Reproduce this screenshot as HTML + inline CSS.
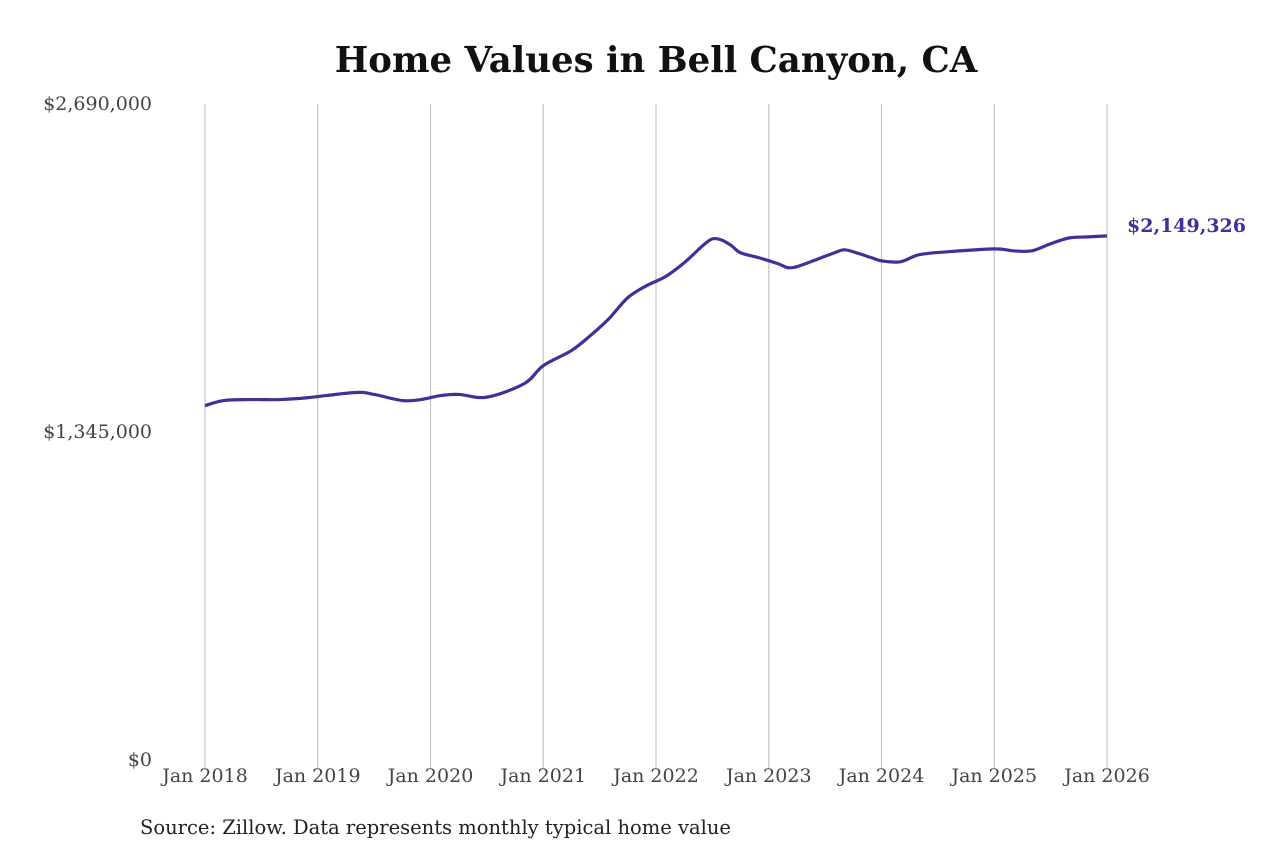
<!DOCTYPE html>
<html><head><meta charset="utf-8"><style>
body{margin:0;background:#fff;width:1280px;height:853px;overflow:hidden}
text{font-family:"DejaVu Serif","Liberation Serif",serif}
</style></head><body>
<svg id="chart" width="1280" height="853">
<text x="656" y="72" text-anchor="middle" font-size="35.5" font-weight="bold" fill="#111">Home Values in Bell Canyon, CA</text>
<g id="grid"></g>
<g id="yaxis"></g>
<g id="xaxis"></g>
<path id="line" fill="none" stroke="#3b3399" stroke-width="3.2" stroke-linejoin="round"/>
<text id="endlabel" font-size="19" font-weight="bold" fill="#3b3399"></text>
<text x="140" y="834" font-size="19.5" fill="#222">Source: Zillow. Data represents monthly typical home value</text>
</svg>
<script>
// months since Jan 2018
const months=[0,2,5,8,11,16,18,21,23,25,27,30,34,36,39,41,43,45,47,49,51,53,54,55,56,57,59,61,62,63,65,67,68,69,71,72,74,76,79,84,86,88,90,92,94,96];
const values=[1453,1474,1478,1478,1486,1507,1499,1474,1478,1494,1499,1488,1544,1617,1679,1740,1810,1896,1945,1982,2039,2110,2137,2132,2110,2080,2059,2035,2019,2023,2051,2080,2092,2084,2059,2047,2043,2072,2084,2096,2088,2088,2117,2141,2145,2149.326];
const yTicks=[0,1345,2690];
const yTickLabels=["$0","$1,345,000","$2,690,000"];
const xTicks=[0,12,24,36,48,60,72,84,96];
const xTickLabels=["Jan 2018","Jan 2019","Jan 2020","Jan 2021","Jan 2022","Jan 2023","Jan 2024","Jan 2025","Jan 2026"];
const endLabel="$2,149,326";
const X=m=>205+m*(1107-205)/96;
const Y=v=>760-v*(760-104)/2690;
const ns="http://www.w3.org/2000/svg";
const grid=document.getElementById('grid'),ya=document.getElementById('yaxis'),xa=document.getElementById('xaxis');
xTicks.forEach((m,i)=>{
  const l=document.createElementNS(ns,'line');
  
  
  l.setAttribute('x1',X(m));l.setAttribute('x2',X(m));l.setAttribute('y1',104);l.setAttribute('y2',768);
  l.setAttribute('stroke','#c4c4c4');l.setAttribute('stroke-width','1.2');grid.appendChild(l);
  const t=document.createElementNS(ns,'text');
  
  
  t.setAttribute('x',X(m));t.setAttribute('y',782);t.setAttribute('text-anchor','middle');
  t.setAttribute('font-size','19');t.setAttribute('fill','#444');t.textContent=xTickLabels[i];xa.appendChild(t);
});
yTicks.forEach((v,i)=>{
  const t=document.createElementNS(ns,'text');
  
  
  t.setAttribute('x',152);t.setAttribute('y',Y(v)+6);t.setAttribute('text-anchor','end');
  t.setAttribute('font-size','19');t.setAttribute('fill','#444');t.textContent=yTickLabels[i];ya.appendChild(t);
});
const pts=months.map((m,i)=>[X(m),Y(values[i])]);
let d='M'+pts[0][0]+','+pts[0][1];
for(let i=0;i<pts.length-1;i++){
  const p0=pts[Math.max(0,i-1)],p1=pts[i],p2=pts[i+1],p3=pts[Math.min(pts.length-1,i+2)];
  const c1=[p1[0]+(p2[0]-p0[0])/6,p1[1]+(p2[1]-p0[1])/6],c2=[p2[0]-(p3[0]-p1[0])/6,p2[1]-(p3[1]-p1[1])/6];
  d+=' C'+c1+' '+c2+' '+p2;
}
document.getElementById('line').setAttribute('d',d);
const el=document.getElementById('endlabel');
el.setAttribute('x',X(months[months.length-1])+20);el.setAttribute('y',Y(values[values.length-1])-4);
el.textContent=endLabel;
</script>
</body></html>
